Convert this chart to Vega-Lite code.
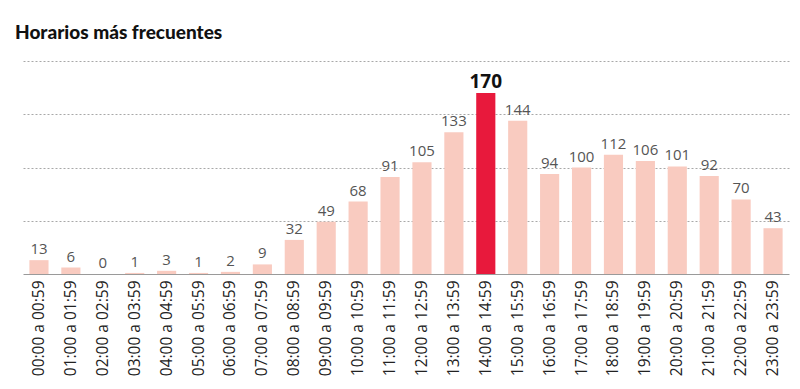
{
  "$schema": "https://vega.github.io/schema/vega-lite/v6.json",
  "autosize": {"type": "none"},
  "width": 766,
  "height": 213,
  "padding": {"left": 23, "top": 61, "right": 11, "bottom": 115},
  "background": "white",
  "title": {
    "text": "Horarios más frecuentes",
    "anchor": "start",
    "frame": "group",
    "font": "Lato",
    "fontSize": 19,
    "fontWeight": 900,
    "color": "#111111",
    "dx": -8,
    "offset": 18
  },
  "data": {
    "values": [
      {"hora": "00:00 a 00:59", "n": 13},
      {"hora": "01:00 a 01:59", "n": 6},
      {"hora": "02:00 a 02:59", "n": 0},
      {"hora": "03:00 a 03:59", "n": 1},
      {"hora": "04:00 a 04:59", "n": 3},
      {"hora": "05:00 a 05:59", "n": 1},
      {"hora": "06:00 a 06:59", "n": 2},
      {"hora": "07:00 a 07:59", "n": 9},
      {"hora": "08:00 a 08:59", "n": 32},
      {"hora": "09:00 a 09:59", "n": 49},
      {"hora": "10:00 a 10:59", "n": 68},
      {"hora": "11:00 a 11:59", "n": 91},
      {"hora": "12:00 a 12:59", "n": 105},
      {"hora": "13:00 a 13:59", "n": 133},
      {"hora": "14:00 a 14:59", "n": 170, "top": true},
      {"hora": "15:00 a 15:59", "n": 144},
      {"hora": "16:00 a 16:59", "n": 94},
      {"hora": "17:00 a 17:59", "n": 100},
      {"hora": "18:00 a 18:59", "n": 112},
      {"hora": "19:00 a 19:59", "n": 106},
      {"hora": "20:00 a 20:59", "n": 101},
      {"hora": "21:00 a 21:59", "n": 92},
      {"hora": "22:00 a 22:59", "n": 70},
      {"hora": "23:00 a 23:59", "n": 43}
    ]
  },
  "config": {
    "view": {"stroke": null},
    "font": "Lato"
  },
  "encoding": {
    "x": {
      "field": "hora",
      "type": "nominal",
      "sort": null,
      "title": null,
      "scale": {"paddingInner": 0.4, "paddingOuter": 0.2},
      "axis": {
        "labelAngle": -90,
        "labelAlign": "right",
        "labelBaseline": "middle",
        "labelFont": "Open Sans",
        "labelFontSize": 15.5,
        "labelColor": "#222222",
        "labelPadding": 6,
        "labelOverlap": false,
        "ticks": false,
        "domainColor": "#9a9a9a",
        "domainWidth": 1,
        "grid": false
      }
    },
    "y": {
      "field": "n",
      "type": "quantitative",
      "title": null,
      "scale": {"domain": [0, 200], "nice": false},
      "axis": {
        "values": [50, 100, 150, 200],
        "labels": false,
        "ticks": false,
        "domain": false,
        "grid": true,
        "gridColor": "#a8a8a8",
        "gridDash": [2, 2],
        "gridWidth": 1
      }
    }
  },
  "layer": [
    {
      "mark": {"type": "bar"},
      "encoding": {
        "color": {
          "condition": {"test": "datum.top", "value": "#e8193c"},
          "value": "#f9cbc0"
        }
      }
    },
    {
      "transform": [{"filter": "!datum.top"}],
      "mark": {"type": "text", "baseline": "bottom", "dy": -3, "font": "Open Sans", "fontSize": 15, "color": "#555555"},
      "encoding": {"text": {"field": "n", "type": "quantitative"}}
    },
    {
      "transform": [{"filter": "datum.top"}],
      "mark": {"type": "text", "baseline": "bottom", "dy": -1, "font": "Open Sans", "fontSize": 19, "fontWeight": "bold", "color": "#111111"},
      "encoding": {"text": {"field": "n", "type": "quantitative"}}
    }
  ]
}
